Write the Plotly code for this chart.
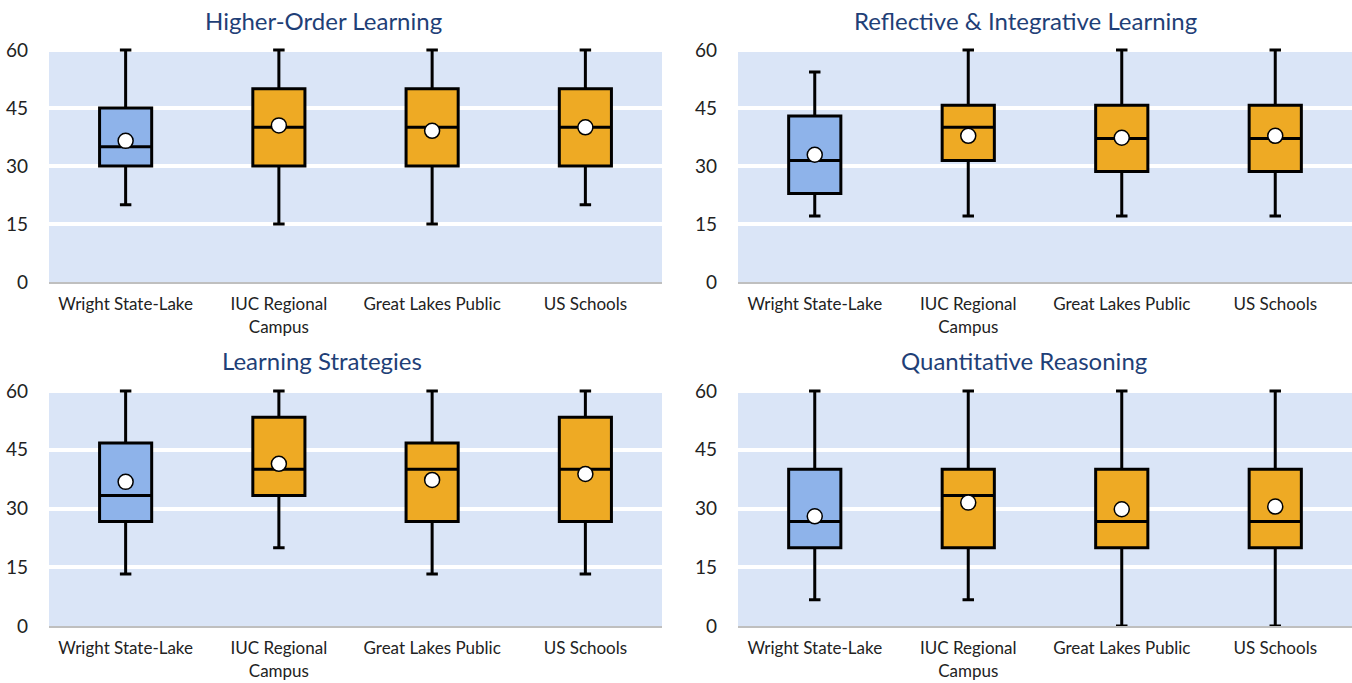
import plotly.graph_objects as go

categories = ["Wright State-Lake", "IUC Regional<br>Campus", "Great Lakes Public", "US Schools"]
panel_titles = ["Higher-Order Learning", "Reflective & Integrative Learning",
                "Learning Strategies", "Quantitative Reasoning"]
y_ticks = [0, 15, 30, 45, 60]

# Higher-Order Learning
hol_low = [20, 15, 15, 20]
hol_q1 = [30, 30, 30, 30]
hol_med = [35, 40, 40, 40]
hol_q3 = [45, 50, 50, 50]
hol_high = [60, 60, 60, 60]
hol_mean = [36.5, 40.5, 39.1, 40.0]

# Reflective & Integrative Learning
ril_low = [17.1, 17.1, 17.1, 17.1]
ril_q1 = [22.9, 31.4, 28.6, 28.6]
ril_med = [31.4, 40.0, 37.1, 37.1]
ril_q3 = [42.9, 45.7, 45.7, 45.7]
ril_high = [54.3, 60, 60, 60]
ril_mean = [32.9, 37.8, 37.3, 37.8]

# Learning Strategies
ls_low = [13.3, 20.0, 13.3, 13.3]
ls_q1 = [26.7, 33.3, 26.7, 26.7]
ls_med = [33.3, 40.0, 40.0, 40.0]
ls_q3 = [46.7, 53.3, 46.7, 53.3]
ls_high = [60, 60, 60, 60]
ls_mean = [36.8, 41.4, 37.3, 38.8]

# Quantitative Reasoning
qr_low = [6.7, 6.7, 0, 0]
qr_q1 = [20, 20, 20, 20]
qr_med = [26.7, 33.3, 26.7, 26.7]
qr_q3 = [40, 40, 40, 40]
qr_high = [60, 60, 60, 60]
qr_mean = [28.0, 31.5, 29.8, 30.5]

panels = [
    (hol_low, hol_q1, hol_med, hol_q3, hol_high, hol_mean),
    (ril_low, ril_q1, ril_med, ril_q3, ril_high, ril_mean),
    (ls_low, ls_q1, ls_med, ls_q3, ls_high, ls_mean),
    (qr_low, qr_q1, qr_med, qr_q3, qr_high, qr_mean),
]

BLUE = "#8EB3EA"
ORANGE = "#EEAA24"
BG = "#DAE5F7"
TITLE_C = "#1F3F77"
FONT = "Lato"

W, H = 1352, 683
# plot-area pixel boxes: (x0, x1, y at 60, y at 0)
boxes = [
    (49, 662, 50, 282),
    (738, 1352, 50, 282),
    (49, 662, 391, 626),
    (738, 1352, 391, 626),
]
title_pos = [(323, 20), (1025, 20), (322, 360), (1024, 360)]

fig = go.Figure()
layout = dict()
for i, (low, q1, med, q3, high, mean) in enumerate(panels):
    n = i + 1
    xa = "x" if n == 1 else f"x{n}"
    ya = "y" if n == 1 else f"y{n}"
    for idx, color in [([0], BLUE), ([1, 2, 3], ORANGE)]:
        fig.add_trace(go.Box(
            x=[categories[k] for k in idx],
            q1=[q1[k] for k in idx],
            median=[med[k] for k in idx],
            q3=[q3[k] for k in idx],
            lowerfence=[low[k] for k in idx],
            upperfence=[high[k] for k in idx],
            fillcolor=color,
            line=dict(color="black", width=3),
            width=0.34,
            whiskerwidth=0.22,
            boxpoints=False,
            hoverinfo="skip",
            showlegend=False,
            xaxis=xa, yaxis=ya,
        ))
    fig.add_trace(go.Scatter(
        x=categories, y=mean, mode="markers",
        marker=dict(size=15, color="white", line=dict(color="black", width=1.5)),
        showlegend=False, hoverinfo="skip",
        xaxis=xa, yaxis=ya, cliponaxis=False,
    ))
    x0, x1, yt, yb = boxes[i]
    xkey = "xaxis" if n == 1 else f"xaxis{n}"
    ykey = "yaxis" if n == 1 else f"yaxis{n}"
    top_val = 60.5
    px_per = (yb - yt) / 60.0
    ytop_px = yb - top_val * px_per
    layout[xkey] = dict(
        domain=[x0 / W, x1 / W], anchor=ya, automargin=False,
        type="category", categoryorder="array", categoryarray=categories,
        range=[-0.5, 3.5],
        showline=True, linecolor="#BFBFBF", linewidth=2,
        showgrid=False, ticks="", ticklabelstandoff=6,
        tickfont=dict(family=FONT, size=17, color="#222222"),
        fixedrange=True,
    )
    layout[ykey] = dict(
        domain=[1 - yb / H, 1 - ytop_px / H], anchor=xa, automargin=False,
        range=[0, top_val], tickvals=y_ticks,
        showgrid=True, gridcolor="white", gridwidth=4,
        zeroline=False, showline=False, ticks="",
        ticklabelstandoff=20,
        tickfont=dict(family=FONT, size=19, color="#222222"),
        fixedrange=True,
    )

annotations = []
for (tx, ty), t in zip(title_pos, panel_titles):
    annotations.append(dict(
        text=t, x=tx / W, y=1 - ty / H, xref="paper", yref="paper",
        xanchor="center", yanchor="middle", showarrow=False,
        font=dict(family=FONT, size=24, color=TITLE_C),
    ))

fig.update_layout(
    width=W, height=H,
    margin=dict(l=0, r=0, t=0, b=0, autoexpand=False),
    paper_bgcolor="white",
    plot_bgcolor=BG,
    boxmode="overlay",
    annotations=annotations,
    **layout,
)

fig.write_html(
    "out.html",
    config={"displayModeBar": False},
    post_script="document.body.style.margin='0';document.body.style.overflow='hidden';",
)
